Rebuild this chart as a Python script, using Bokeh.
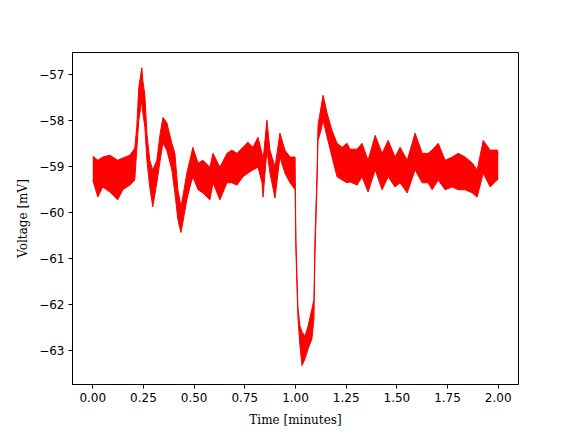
from bokeh.plotting import figure
from bokeh.models import FixedTicker, ColumnDataSource
from bokeh.embed import file_html
from bokeh.resources import INLINE

# Time [minutes] and envelope of the noisy voltage trace [mV]
time_min = [0.000, 0.025, 0.049, 0.084, 0.123, 0.148, 0.183, 0.207, 0.217, 0.227,
            0.242, 0.247, 0.257, 0.267, 0.281, 0.296, 0.316, 0.331, 0.346, 0.365,
            0.390, 0.405, 0.420, 0.435, 0.444, 0.464, 0.479, 0.494, 0.519, 0.543,
            0.578, 0.593, 0.627, 0.662, 0.686, 0.711, 0.741, 0.765, 0.790, 0.815,
            0.835, 0.840, 0.859, 0.874, 0.899, 0.923, 0.948, 0.973, 0.998, 1.002,
            1.007, 1.012, 1.022, 1.032, 1.047, 1.062, 1.081, 1.091, 1.096, 1.106,
            1.111, 1.126, 1.136, 1.156, 1.180, 1.205, 1.230, 1.254, 1.269, 1.304,
            1.328, 1.358, 1.393, 1.427, 1.457, 1.491, 1.516, 1.551, 1.590, 1.625,
            1.654, 1.674, 1.704, 1.738, 1.773, 1.802, 1.837, 1.872, 1.896, 1.926,
            1.960, 1.995, 2.000]
upper_mv = [-58.77, -58.86, -58.79, -58.75, -58.86, -58.81, -58.75, -58.60, -58.14, -57.28,
            -56.85, -57.13, -57.45, -58.27, -58.86, -59.07, -58.86, -58.32, -57.93, -58.04,
            -58.49, -58.71, -59.50, -59.87, -59.66, -59.14, -58.86, -58.58, -58.92, -58.86,
            -59.01, -58.71, -59.01, -58.71, -58.64, -58.71, -58.58, -58.47, -58.58, -58.36,
            -58.71, -58.86, -57.99, -58.64, -59.01, -58.27, -58.64, -58.79, -58.79, -60.58,
            -61.34, -62.05, -62.46, -62.59, -62.68, -62.46, -62.09, -61.88, -60.58, -59.18,
            -58.10, -57.71, -57.45, -57.84, -58.21, -58.49, -58.58, -58.49, -58.62, -58.62,
            -58.49, -58.86, -58.32, -58.71, -58.43, -58.79, -58.58, -58.86, -58.27, -58.71,
            -58.71, -58.64, -58.49, -58.86, -58.79, -58.71, -58.79, -58.92, -59.07, -58.43,
            -58.64, -58.64, -58.70]
lower_mv = [-59.29, -59.66, -59.44, -59.55, -59.72, -59.50, -59.40, -59.29, -58.64, -57.99,
            -57.56, -57.84, -58.14, -58.86, -59.44, -59.87, -59.35, -58.90, -58.49, -58.64,
            -59.07, -59.57, -60.15, -60.43, -60.22, -59.72, -59.44, -59.22, -59.50, -59.57,
            -59.72, -59.35, -59.72, -59.35, -59.35, -59.40, -59.22, -59.14, -59.07, -59.01,
            -59.35, -59.66, -58.64, -59.14, -59.68, -58.79, -59.14, -59.35, -59.50, -60.80,
            -61.56, -62.27, -62.89, -63.32, -63.17, -62.96, -62.74, -62.31, -60.90, -59.40,
            -58.43, -58.21, -57.99, -58.36, -58.79, -59.22, -59.29, -59.35, -59.33, -59.40,
            -59.22, -59.55, -59.07, -59.50, -59.22, -59.44, -59.35, -59.57, -59.07, -59.35,
            -59.35, -59.50, -59.29, -59.50, -59.44, -59.50, -59.50, -59.57, -59.66, -59.14,
            -59.44, -59.29, -59.25]

x_ticks = [0.0, 0.25, 0.5, 0.75, 1.0, 1.25, 1.5, 1.75, 2.0]
x_tick_labels = ["0.00", "0.25", "0.50", "0.75", "1.00", "1.25", "1.50", "1.75", "2.00"]
y_ticks = [-63, -62, -61, -60, -59, -58, -57]
y_tick_labels = ["\u221263", "\u221262", "\u221261", "\u221260", "\u221259", "\u221258", "\u221257"]

src = ColumnDataSource(dict(t=time_min, up=upper_mv, lo=lower_mv))

p = figure(frame_width=446, frame_height=332,
           x_range=(-0.1, 2.1), y_range=(-63.73, -56.52),
           output_backend="svg", toolbar_location=None,
           min_border_left=72, min_border_right=42,
           min_border_top=52, min_border_bottom=44)

p.varea(x="t", y1="lo", y2="up", source=src, fill_color="red", fill_alpha=1.0)
p.line(x="t", y="up", source=src, line_color="red", line_width=1)
p.line(x="t", y="lo", source=src, line_color="red", line_width=1)

p.xgrid.visible = False
p.ygrid.visible = False
p.outline_line_color = "black"
p.outline_line_width = 1
p.background_fill_color = "white"
p.border_fill_color = "white"

for ax in (p.xaxis[0], p.yaxis[0]):
    ax.axis_line_color = "black"
    ax.major_tick_out = 4
    ax.major_tick_in = 0
    ax.minor_tick_line_color = None
    ax.major_label_text_font = "DejaVu Sans"
    ax.major_label_text_font_size = "12px"
    ax.major_label_text_color = "black"
    ax.axis_label_text_font = "DejaVu Serif"
    ax.axis_label_text_font_size = "12px"
    ax.axis_label_text_font_style = "normal"
    ax.axis_label_text_color = "black"

p.xaxis.ticker = FixedTicker(ticks=x_ticks)
p.xaxis.major_label_overrides = {t: l for t, l in zip(x_ticks, x_tick_labels)}
p.yaxis.ticker = FixedTicker(ticks=y_ticks)
p.yaxis.major_label_overrides = {t: l for t, l in zip(y_ticks, y_tick_labels)}
p.xaxis.axis_label = "Time [minutes]"
p.yaxis.axis_label = "Voltage [mV]"
p.xaxis.major_label_standoff = 4
p.yaxis.major_label_standoff = 4
p.xaxis.axis_label_standoff = 8
p.yaxis.axis_label_standoff = 6

open("out.html", "w").write(file_html(p, INLINE))
